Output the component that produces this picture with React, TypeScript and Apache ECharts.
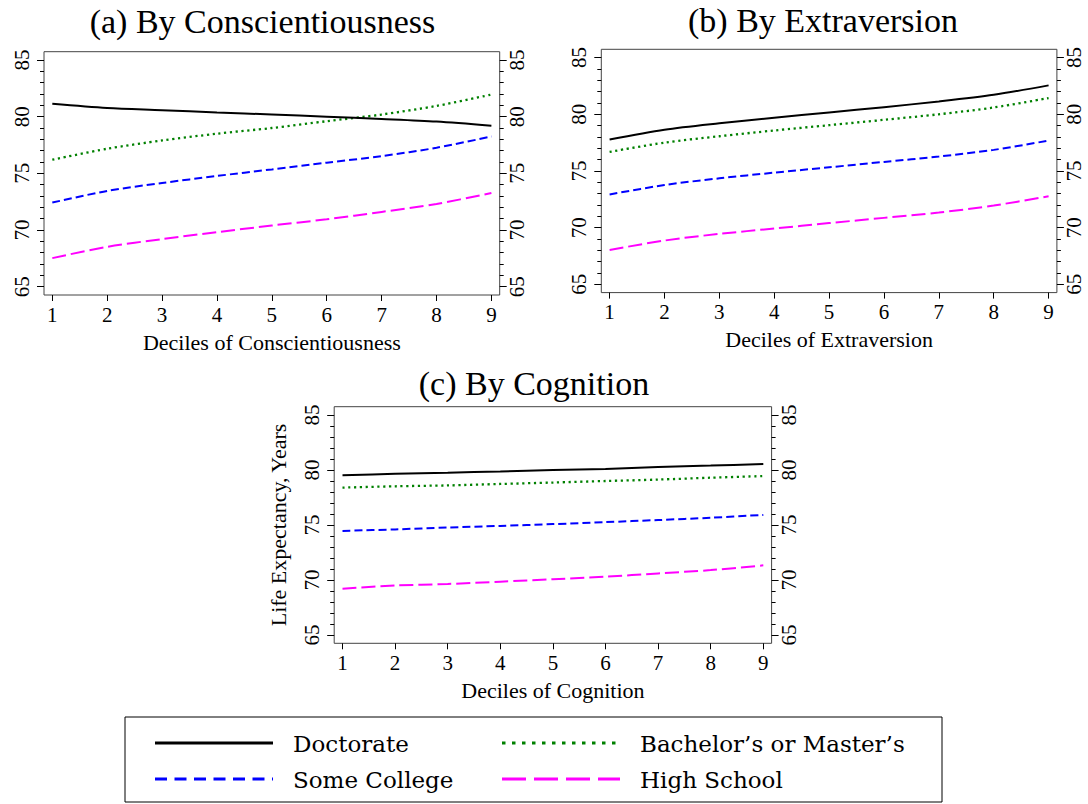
import React, { useEffect, useRef } from "react";
import * as echarts from "echarts";

const FONT = '"Liberation Serif", "Times New Roman", serif';
const LEGEND_FONT = '"DejaVu Serif", "Liberation Serif", serif';

const DECILES = [1, 2, 3, 4, 5, 6, 7, 8, 9];
const Y_MIN = 65;
const Y_MAX = 85;
const Y_INTERVAL = 5;

const SERIES_NAMES = ["Doctorate", "Bachelor\u2019s or Master\u2019s", "Some College", "High School"];

// (a) By Conscientiousness
const CONSC_DOCTORATE = [81.13, 80.76, 80.57, 80.37, 80.19, 80.0, 79.8, 79.57, 79.2];
const CONSC_BACHELOR = [76.2, 77.17, 77.9, 78.5, 79.0, 79.6, 80.19, 80.95, 81.95];
const CONSC_SOMECOLLEGE = [72.42, 73.45, 74.15, 74.77, 75.35, 75.94, 76.52, 77.26, 78.25];
const CONSC_HIGHSCHOOL = [67.52, 68.52, 69.2, 69.81, 70.4, 70.95, 71.6, 72.3, 73.27];

// (b) By Extraversion
const EXTRA_DOCTORATE = [77.77, 78.63, 79.2, 79.69, 80.16, 80.63, 81.13, 81.72, 82.55];
const EXTRA_BACHELOR = [76.68, 77.5, 78.06, 78.57, 79.04, 79.51, 80.0, 80.6, 81.43];
const EXTRA_SOMECOLLEGE = [72.93, 73.76, 74.35, 74.85, 75.32, 75.8, 76.27, 76.86, 77.68];
const EXTRA_HIGHSCHOOL = [68.03, 68.86, 69.45, 69.92, 70.4, 70.86, 71.33, 71.95, 72.77];

// (c) By Cognition
const COGN_DOCTORATE = [79.53, 79.65, 79.75, 79.87, 80.0, 80.1, 80.27, 80.4, 80.55];
const COGN_BACHELOR = [78.4, 78.52, 78.6, 78.73, 78.86, 79.0, 79.13, 79.3, 79.45];
const COGN_SOMECOLLEGE = [74.46, 74.6, 74.77, 74.92, 75.08, 75.26, 75.45, 75.66, 75.92];
const COGN_HIGHSCHOOL = [69.21, 69.5, 69.64, 69.85, 70.07, 70.3, 70.6, 70.9, 71.33];

const PANEL_TITLES = ["(a) By Conscientiousness", "(b) By Extraversion", "(c) By Cognition"];
const X_NAMES = ["Deciles of Conscientiousness", "Deciles of Extraversion", "Deciles of Cognition"];
const Y_NAME = "Life Expectancy, Years";

const PANEL_DATA = [
  [CONSC_DOCTORATE, CONSC_BACHELOR, CONSC_SOMECOLLEGE, CONSC_HIGHSCHOOL],
  [EXTRA_DOCTORATE, EXTRA_BACHELOR, EXTRA_SOMECOLLEGE, EXTRA_HIGHSCHOOL],
  [COGN_DOCTORATE, COGN_BACHELOR, COGN_SOMECOLLEGE, COGN_HIGHSCHOOL],
];

// layout (pixels)
const GRIDS = [
  { left: 52.3, top: 60, width: 439.1, height: 226.7 },
  { left: 609.6, top: 57.6, width: 439, height: 226.7 },
  { left: 342.5, top: 415, width: 420.8, height: 220 },
];
const PAD = 8.3;
const TITLE_POS = [
  [262.5, 21],
  [823, 20],
  [534, 383],
];
// legend layout: order of entries and their slots (column x, row y)
const LEGEND_ORDER = [0, 1, 2, 3];
const LEGEND_SLOTS = [
  [155, 743],
  [502, 743],
  [155, 779],
  [502, 779],
];
const LEGEND_SAMPLE_W = 118;
const LEGEND_TEXT_GAP = 20;

const LINE_STYLES = [
  { color: "#000000", width: 2, type: "solid" },
  { color: "#008000", width: 2.3, type: [2.2, 3.6] },
  { color: "#0000ff", width: 2, type: [8, 4] },
  { color: "#ff00ff", width: 2, type: [14, 5] },
];
const LEGEND_DASH = [null, [3.5, 6.5], [12, 7.5], [24, 8]];

function buildOption() {
  const grid: any[] = [];
  const xAxis: any[] = [];
  const yAxis: any[] = [];
  const series: any[] = [];
  const graphic: any[] = [];

  GRIDS.forEach((g, p) => {
    grid.push({ ...g, containLabel: false, show: false });
    xAxis.push({
      type: "value",
      gridIndex: p,
      min: 1,
      max: 9,
      interval: 1,
      offset: PAD,
      name: X_NAMES[p],
      nameLocation: "middle",
      nameGap: 36,
      nameTextStyle: { fontFamily: FONT, fontSize: 22, color: "#000" },
      axisLine: { show: false },
      axisTick: { show: true, length: 6, lineStyle: { color: "#000", width: 1 } },
      axisLabel: { fontFamily: FONT, fontSize: 21, color: "#000", margin: 9 },
      splitLine: { show: false },
    });
    const yCommon = {
      type: "value",
      gridIndex: p,
      min: Y_MIN,
      max: Y_MAX,
      interval: Y_INTERVAL,
      offset: PAD,
      axisLine: { show: false },
      axisTick: { show: true, length: 7, lineStyle: { color: "#000", width: 1 } },
      minorTick: { show: true, splitNumber: 5, length: 4, lineStyle: { color: "#000", width: 1 } },
      splitLine: { show: false },
      minorSplitLine: { show: false },
    };
    yAxis.push({
      ...yCommon,
      position: "left",
      name: p === 2 ? Y_NAME : "",
      nameLocation: "middle",
      nameGap: 45,
      nameRotate: 90,
      nameTextStyle: { fontFamily: FONT, fontSize: 22, color: "#000" },
      axisLabel: { fontFamily: FONT, fontSize: 21, color: "#000", rotate: 90, margin: 12 },
    });
    yAxis.push({
      ...yCommon,
      position: "right",
      axisLabel: { fontFamily: FONT, fontSize: 21, color: "#000", rotate: 90, margin: 7 },
    });

    PANEL_DATA[p].forEach((vals, s) => {
      series.push({
        type: "line",
        name: SERIES_NAMES[s],
        xAxisIndex: p,
        yAxisIndex: p * 2,
        data: DECILES.map((d, i) => [d, vals[i]]),
        symbol: "none",
        smooth: 0.3,
        lineStyle: { ...LINE_STYLES[s] },
        itemStyle: { color: LINE_STYLES[s].color },
        emphasis: { disabled: true },
        z: 10 - s,
      });
    });

    graphic.push({
      type: "rect",
      silent: true,
      shape: { x: g.left - PAD, y: g.top - PAD, width: g.width + 2 * PAD, height: g.height + 2 * PAD },
      style: { fill: "none", stroke: "#444", lineWidth: 1 },
    });
    graphic.push({
      type: "text",
      silent: true,
      x: TITLE_POS[p][0],
      y: TITLE_POS[p][1],
      style: {
        text: PANEL_TITLES[p],
        font: `34px ${FONT}`,
        fill: "#000",
        textAlign: "center",
        textVerticalAlign: "middle",
      },
    });
  });

  // legend box and entries
  graphic.push({
    type: "rect",
    silent: true,
    shape: { x: 125, y: 717, width: 817, height: 85 },
    style: { fill: "none", stroke: "#000", lineWidth: 1 },
  });
  LEGEND_ORDER.forEach((s, k) => {
    const [lx, ly] = LEGEND_SLOTS[k];
    const dash = LEGEND_DASH[s];
    graphic.push({
      type: "line",
      silent: true,
      shape: { x1: lx, y1: ly, x2: lx + LEGEND_SAMPLE_W, y2: ly },
      style: { stroke: LINE_STYLES[s].color, lineWidth: 3, lineDash: dash || null },
    });
    graphic.push({
      type: "text",
      silent: true,
      x: lx + LEGEND_SAMPLE_W + LEGEND_TEXT_GAP,
      y: ly + 1,
      style: {
        text: SERIES_NAMES[s],
        font: `23px ${LEGEND_FONT}`,
        fill: "#000",
        textAlign: "left",
        textVerticalAlign: "middle",
      },
    });
  });

  return {
    animation: false,
    backgroundColor: "#ffffff",
    textStyle: { fontFamily: FONT, color: "#000" },
    grid,
    xAxis,
    yAxis,
    series,
    graphic,
  };
}

export default function App() {
  const ref = useRef<HTMLDivElement>(null);
  useEffect(() => {
    if (!ref.current) return;
    const chart = echarts.init(ref.current, null, { renderer: "svg" });
    chart.setOption(buildOption() as any);
    return () => chart.dispose();
  }, []);
  return (
    <div
      ref={ref}
      style={{ position: "fixed", left: 0, top: 0, width: 1088, height: 804, background: "#fff" }}
    />
  );
}
